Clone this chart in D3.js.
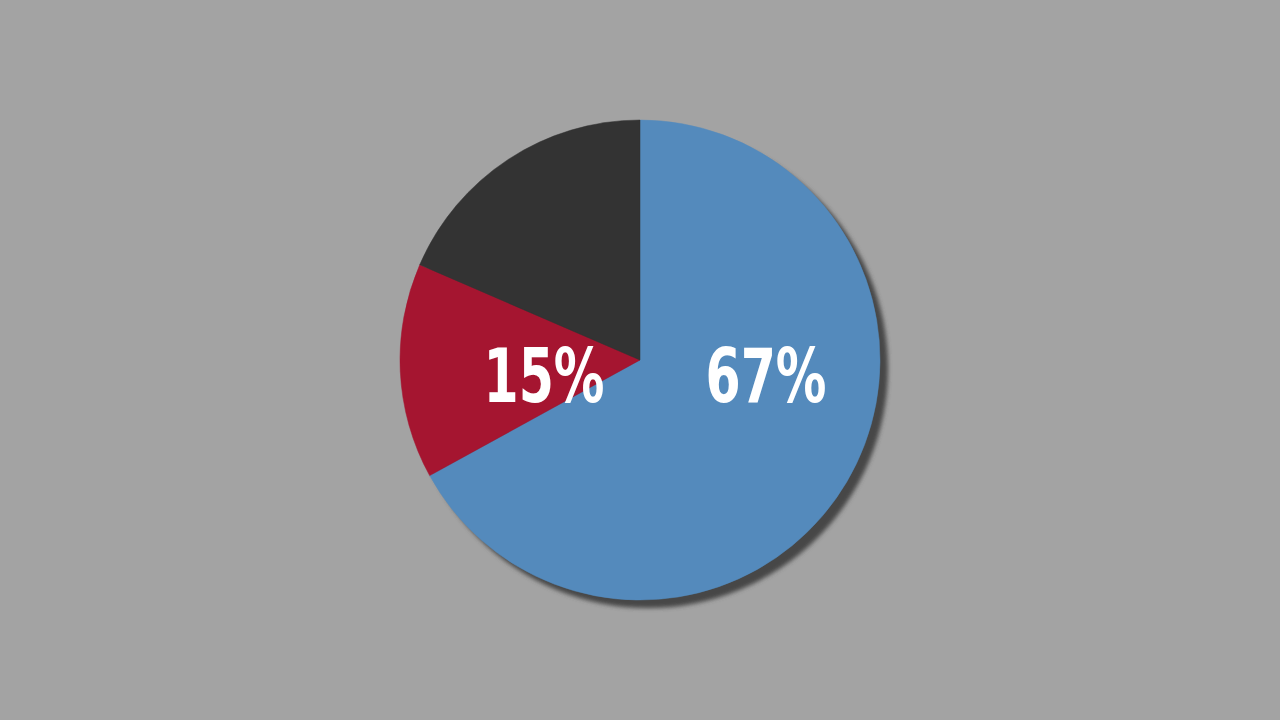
<!DOCTYPE html>
<html>
<head>
<meta charset="utf-8">
<script src="https://cdn.jsdelivr.net/npm/d3@7"></script>
<style>
  html, body { margin: 0; padding: 0; background: #a3a3a3; overflow: hidden; }
</style>
</head>
<body>
<div id="chart"></div>
<script>
// slice data, clockwise from 12 o'clock
const categories = ["A", "B", "C"];
const values = [67, 14.5, 18.5];
const colors = ["#548abc", "#a51530", "#333333"];
const labels = ["67%", "15%", ""];

const width = 1280;
const height = 720;
const cx = 640, cy = 360, radius = 240;

let svg = d3.select("#chart").append("svg")
    .attr("width", width).attr("height", height);

let defs = svg.append("defs");
defs.append("filter").attr("id", "blur")
    .attr("x", "-10%").attr("y", "-10%").attr("width", "120%").attr("height", "120%")
    .append("feGaussianBlur").attr("stdDeviation", 2);

let g = svg.append("g").attr("transform", `translate(${cx},${cy})`);

// drop shadow
g.append("circle")
    .attr("cx", 8).attr("cy", 8).attr("r", radius)
    .attr("fill", "#474747")
    .attr("filter", "url(#blur)");

let pie = d3.pie().sort(null).value((d) => d.value);
let arc = d3.arc().innerRadius(0).outerRadius(radius);

let data = categories.map((c, i) => ({ name: c, value: values[i], color: colors[i], label: labels[i] }));
let arcs = pie(data);

g.append("g").selectAll("path").data(arcs)
    .enter().append("path")
    .attr("d", arc)
    .attr("fill", (d) => d.data.color)
    .attr("stroke", (d) => d.data.color)
    .attr("stroke-width", 0.5);

// labels sit on a horizontal line just below centre, squeezed to look condensed
const labelX = [0.525, -0.40, 0];
g.append("g").selectAll("text").data(arcs)
    .enter().append("text")
    .attr("transform", (d, i) => `translate(${labelX[i] * radius},42) scale(0.76,1)`)
    .attr("text-anchor", "middle")
    .attr("fill", "#ffffff")
    .attr("font-family", "'DejaVu Sans Condensed', 'DejaVu Sans', sans-serif")
    .attr("font-weight", "bold")
    .attr("font-size", 74)
    .text((d) => d.data.label);
</script>
</body>
</html>
